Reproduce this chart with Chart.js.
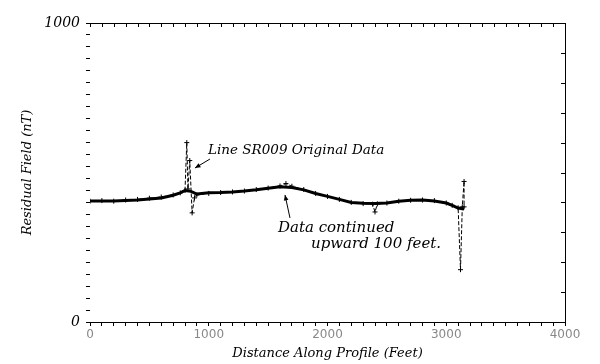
<!DOCTYPE html>
<html>
<head>
<meta charset="utf-8">
<script src="https://cdn.jsdelivr.net/npm/chart.js@4.4.1/dist/chart.umd.min.js"></script>
<style>
    html, body { margin: 0; padding: 0; background: #ffffff; }
    canvas { display: block; }
</style>
</head>
<body>
<canvas id="grafico" width="600" height="364"></canvas>
<script>
const distanciaOriginal = [0, 100, 200, 300, 400, 500, 600, 700, 760, 800, 815, 825, 840, 860, 880, 900, 1000, 1100, 1200, 1300, 1400, 1500, 1600, 1650, 1700, 1800, 1900, 2000, 2100, 2200, 2300, 2380, 2400, 2420, 2500, 2600, 2700, 2800, 2900, 3000, 3050, 3100, 3120, 3135, 3150, 3150];
const campoOriginal = [404, 406, 404, 408, 410, 414, 418, 425, 432, 440, 600, 445, 540, 365, 415, 425, 430, 433, 435, 438, 443, 448, 455, 463, 454, 443, 430, 420, 410, 400, 396, 394, 368, 395, 398, 404, 407, 408, 406, 398, 390, 382, 175, 385, 470, 385];

const distanciaContinuada = [0, 200, 400, 600, 700, 760, 800, 850, 900, 1000, 1100, 1200, 1300, 1400, 1500, 1600, 1700, 1800, 1900, 2000, 2100, 2200, 2300, 2400, 2500, 2600, 2700, 2800, 2900, 3000, 3050, 3100, 3150];
const campoContinuado = [405, 405, 408, 415, 424, 432, 440, 437, 428, 432, 433, 435, 438, 442, 447, 452, 450, 442, 430, 420, 410, 400, 397, 396, 398, 404, 407, 408, 405, 398, 390, 381, 378];

const rotulosX = [0, 1000, 2000, 3000, 4000];
const rotulosY = [0, 1000];

const pontosOriginal = distanciaOriginal.map((d, i) => ({ x: d, y: campoOriginal[i] }));
const pontosContinuado = distanciaContinuada.map((d, i) => ({ x: d, y: campoContinuado[i] }));

const fonteSerifa = "'DejaVu Serif', serif";

// Ticks voltados para dentro no topo e na direita, textos e setas de anotacao
const pluginAnotacoes = {
    id: 'anotacoes',
    afterDraw(chart) {
        const ctx = chart.ctx;
        const escalaX = chart.scales.x;
        const escalaY = chart.scales.y;
        const area = chart.chartArea;

        ctx.save();
        ctx.strokeStyle = '#000';
        ctx.lineWidth = 1;

        ctx.beginPath();
        for (let v = 0; v <= 4000; v += 100) {
            const px = Math.round(escalaX.getPixelForValue(v)) + 0.5;
            ctx.moveTo(px, area.top);
            ctx.lineTo(px, area.top + 4);
        }
        for (let v = 0; v <= 1000; v += 100) {
            const py = Math.round(escalaY.getPixelForValue(v)) + 0.5;
            ctx.moveTo(area.right - 4, py);
            ctx.lineTo(area.right, py);
        }
        ctx.stroke();

        const seta = (x1, y1, x2, y2) => {
            const ax = escalaX.getPixelForValue(x1);
            const ay = escalaY.getPixelForValue(y1);
            const bx = escalaX.getPixelForValue(x2);
            const by = escalaY.getPixelForValue(y2);
            const ang = Math.atan2(by - ay, bx - ax);
            ctx.beginPath();
            ctx.moveTo(ax, ay);
            ctx.lineTo(bx, by);
            ctx.stroke();
            ctx.beginPath();
            ctx.moveTo(bx, by);
            ctx.lineTo(bx - 6 * Math.cos(ang - 0.4), by - 6 * Math.sin(ang - 0.4));
            ctx.lineTo(bx - 6 * Math.cos(ang + 0.4), by - 6 * Math.sin(ang + 0.4));
            ctx.closePath();
            ctx.fillStyle = '#000';
            ctx.fill();
        };

        seta(1010, 545, 884, 515);
        seta(1684, 348, 1642, 425);

        ctx.fillStyle = '#000';
        ctx.textAlign = 'left';
        ctx.textBaseline = 'middle';
        ctx.font = 'italic 13.5px ' + fonteSerifa;
        ctx.fillText('Line SR009 Original Data', escalaX.getPixelForValue(994), escalaY.getPixelForValue(575));
        ctx.font = 'italic 15px ' + fonteSerifa;
        ctx.fillText('Data continued', escalaX.getPixelForValue(1583), escalaY.getPixelForValue(314));
        ctx.fillText('upward 100 feet.', escalaX.getPixelForValue(1861), escalaY.getPixelForValue(261));
        ctx.restore();
    }
};

new Chart(document.getElementById('grafico').getContext('2d'), {
    type: 'scatter',
    data: {
        datasets: [
            {
                label: 'Line SR009 Original Data',
                data: pontosOriginal,
                showLine: true,
                borderColor: '#000',
                backgroundColor: '#000',
                borderWidth: 1,
                borderDash: [4, 2],
                pointStyle: 'cross',
                pointRadius: 2.5,
                pointBorderWidth: 1
            },
            {
                label: 'Data continued upward 100 feet',
                data: pontosContinuado,
                showLine: true,
                borderColor: '#000',
                backgroundColor: '#000',
                borderWidth: 3,
                pointRadius: 0
            }
        ]
    },
    options: {
        responsive: false,
        animation: false,
        layout: { padding: 0 },
        plugins: {
            legend: { display: false },
            tooltip: { enabled: false }
        },
        scales: {
            x: {
                type: 'linear',
                position: 'bottom',
                min: 0,
                max: 4000,
                afterFit: (escala) => { escala.height = 42; },
                ticks: {
                    stepSize: 100,
                    autoSkip: false,
                    maxRotation: 0,
                    padding: 2,
                    color: '#888',
                    font: { family: "'DejaVu Sans', sans-serif", size: 12 },
                    callback: (v) => (rotulosX.includes(v) ? String(v) : '')
                },
                grid: { drawOnChartArea: false, drawTicks: true, tickLength: 4, color: '#000' },
                border: { display: true, color: '#000', width: 1 },
                title: {
                    display: true,
                    text: 'Distance Along Profile (Feet)',
                    color: '#000',
                    font: { family: fonteSerifa, style: 'italic', size: 13 },
                    padding: { top: 0, bottom: 3 }
                }
            },
            x2: {
                type: 'linear',
                position: 'top',
                min: 0,
                max: 4000,
                afterFit: (escala) => { escala.height = 23; },
                ticks: { display: false },
                grid: { display: false },
                border: { display: true, color: '#000', width: 1 }
            },
            y: {
                type: 'linear',
                position: 'left',
                min: 0,
                max: 1000,
                afterFit: (escala) => { escala.width = 90; },
                ticks: {
                    stepSize: 40,
                    autoSkip: false,
                    padding: 6,
                    color: '#000',
                    font: { family: fonteSerifa, style: 'italic', size: 14 },
                    callback: (v) => (rotulosY.includes(v) ? String(v) : '')
                },
                grid: { drawOnChartArea: false, drawTicks: true, tickLength: 4, color: '#000' },
                border: { display: false },
                title: {
                    display: true,
                    text: 'Residual Field (nT)',
                    color: '#000',
                    font: { family: fonteSerifa, style: 'italic', size: 13 },
                    padding: { top: 20, bottom: 0 }
                }
            },
            y2: {
                type: 'linear',
                position: 'right',
                min: 0,
                max: 1000,
                afterFit: (escala) => { escala.width = 35; },
                ticks: { display: false },
                grid: { display: false },
                border: { display: true, color: '#000', width: 1 }
            }
        }
    },
    plugins: [pluginAnotacoes]
});
</script>
</body>
</html>
